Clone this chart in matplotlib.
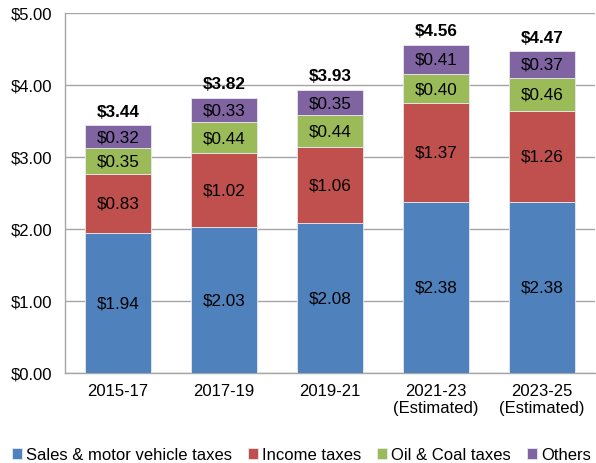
import numpy as np
import matplotlib
matplotlib.use("Agg")
import matplotlib.pyplot as plt

plt.rcParams['font.family'] = ['Liberation Sans', 'DejaVu Sans']

periods = ["2015-17", "2017-19", "2019-21", "2021-23\n(Estimated)", "2023-25\n(Estimated)"]
sales = [1.94, 2.03, 2.08, 2.38, 2.38]
income = [0.83, 1.02, 1.06, 1.37, 1.26]
oil_coal = [0.35, 0.44, 0.44, 0.40, 0.46]
others = [0.32, 0.33, 0.35, 0.41, 0.37]
totals = [3.44, 3.82, 3.93, 4.56, 4.47]

series = [
    ("Sales & motor vehicle taxes", sales, "#4F81BD"),
    ("Income taxes", income, "#C0504D"),
    ("Oil & Coal taxes", oil_coal, "#9BBB59"),
    ("Others", others, "#8064A2"),
]

fig = plt.figure(figsize=(5.96, 4.64), dpi=100)
ax = fig.add_axes([0.109, 0.194, 0.889, 0.776])

x = np.arange(len(periods))
bottom = np.zeros(len(periods))
for name, vals, col in series:
    vals = np.array(vals)
    ax.bar(x, vals, 0.62, bottom=bottom, color=col, label=name,
           edgecolor="#E8E8F0", linewidth=0.6, zorder=3)
    for xi, b, v in zip(x, bottom, vals):
        ax.text(xi, b + v / 2, f"${v:.2f}", ha="center", va="center",
                fontsize=12.3, color="black", zorder=4)
    bottom += vals

for xi, t in zip(x, totals):
    ax.text(xi, t + 0.09, f"${t:.2f}", ha="center", va="bottom",
            fontsize=12.3, fontweight="bold", zorder=4)

ax.set_xlim(-0.5, 4.5)
ax.set_ylim(0, 5)
ax.set_yticks(np.arange(0, 5.01, 1))
ax.set_yticklabels([f"${v:.2f}" for v in np.arange(0, 5.01, 1)])
ax.set_xticks(x)
ax.set_xticklabels(periods)
ax.tick_params(length=0, labelsize=12, pad=7)
ax.tick_params(axis="y", pad=9)
ax.yaxis.grid(True, color="#A6A6A6", linewidth=1, zorder=0)
for s in ["top", "right"]:
    ax.spines[s].set_visible(False)
for s in ["left", "bottom"]:
    ax.spines[s].set_color("#A6A6A6")
    ax.spines[s].set_linewidth(1)

ax.legend(loc="lower center", bbox_to_anchor=(0.446, -0.29), ncol=4,
          frameon=False, fontsize=12, handlelength=0.6, handleheight=0.6,
          handletextpad=0.25, columnspacing=0.95)

fig.savefig("out.png", dpi=100)
